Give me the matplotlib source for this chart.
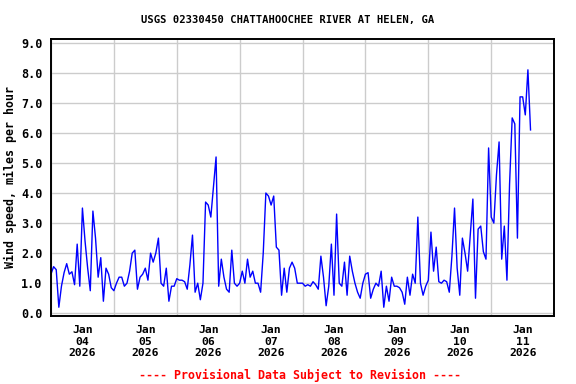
import matplotlib
matplotlib.use("Agg")
import matplotlib.pyplot as plt
import matplotlib.dates as mdates
import pandas as pd

# hourly wind speed (mph), one list per day
jan04 = [1.3, 1.55, 1.45, 0.2, 0.9, 1.35, 1.65, 1.3, 1.38, 0.95, 2.3, 0.9,
         3.5, 2.4, 1.5, 0.75, 3.4, 2.5, 1.2, 1.85, 0.4, 1.5, 1.3, 0.85]
jan05 = [0.75, 1.0, 1.2, 1.2, 0.9, 1.0, 1.4, 2.0, 2.1, 0.8, 1.2, 1.3,
         1.5, 1.1, 2.0, 1.7, 2.0, 2.5, 1.0, 0.9, 1.5, 0.4, 0.9, 0.9]
jan06 = [1.15, 1.1, 1.1, 1.05, 0.8, 1.6, 2.6, 0.7, 1.0, 0.45, 1.0, 3.7,
         3.6, 3.2, 4.2, 5.2, 0.9, 1.8, 1.2, 0.8, 0.7, 2.1, 1.0, 0.9]
jan07 = [1.0, 1.4, 1.0, 1.8, 1.2, 1.4, 1.0, 1.0, 0.7, 2.0, 4.0, 3.9,
         3.6, 3.9, 2.2, 2.1, 0.6, 1.5, 0.7, 1.5, 1.7, 1.5, 1.0, 1.0]
jan08 = [1.0, 0.9, 0.95, 0.9, 1.05, 0.95, 0.8, 1.9, 1.2, 0.25, 0.9, 2.3,
         0.6, 3.3, 1.0, 0.9, 1.7, 0.6, 1.9, 1.4, 1.0, 0.7, 0.5, 1.0]
jan09 = [1.3, 1.35, 0.5, 0.8, 1.0, 0.9, 1.4, 0.2, 0.9, 0.4, 1.2, 0.9,
         0.9, 0.85, 0.7, 0.3, 1.2, 0.6, 1.3, 1.0, 3.2, 1.0, 0.6, 0.9]
jan10 = [1.1, 2.7, 1.4, 2.2, 1.05, 1.0, 1.1, 1.05, 0.7, 1.9, 3.5, 1.5,
         0.6, 2.5, 2.0, 1.4, 2.6, 3.8, 0.5, 2.8, 2.9, 2.05, 1.8, 5.5]
jan11 = [3.2, 3.0, 4.6, 5.7, 1.8, 2.9, 1.1, 4.3, 6.5, 6.3, 2.5, 7.2,
         7.2, 6.6, 8.1, 6.1]

wind = jan04 + jan05 + jan06 + jan07 + jan08 + jan09 + jan10 + jan11
times = pd.date_range("2026-01-04 00:00", periods=len(wind), freq="h")

day_ticks = pd.date_range("2026-01-04 12:00", periods=8, freq="D")
tick_labels = [d.strftime("%b\n%d\n%Y") for d in day_ticks]
y_ticks = [i * 1.0 for i in range(10)]

fnt = "DejaVu Sans Mono"

fig = plt.figure(figsize=(5.76, 3.84), dpi=100)
ax = fig.add_axes([0.0885, 0.178, 0.8735, 0.72])

ax.plot(times, wind, color="#0000ff", linewidth=1.0)

ax.set_xlim(pd.Timestamp("2026-01-04 00:00"), pd.Timestamp("2026-01-12 00:00"))
ax.set_ylim(-0.08, 9.12)

# grid at midnight, labels at noon
ax.xaxis.set_major_locator(mdates.DayLocator())
ax.xaxis.set_major_formatter(plt.NullFormatter())
ax.set_xticks(day_ticks, minor=True)
ax.set_xticklabels(tick_labels, minor=True, fontfamily=fnt,
                   fontweight="bold", fontsize=8.2, linespacing=1.15)
ax.tick_params(axis="x", which="both", length=0, pad=7)

ax.set_yticks(y_ticks)
ax.set_yticklabels([f"{v:.1f}" for v in y_ticks], fontfamily=fnt,
                   fontweight="bold", fontsize=8.5)
ax.tick_params(axis="y", length=0, pad=6)

ax.grid(True, which="major", color="#cccccc", linewidth=1.0)
ax.set_axisbelow(True)
for sp in ax.spines.values():
    sp.set_linewidth(1.4)
    sp.set_color("black")

ax.set_ylabel("Wind speed, miles per hour", fontfamily=fnt,
              fontweight="bold", fontsize=8.4, labelpad=3)

fig.text(0.5, 0.948, "USGS 02330450 CHATTAHOOCHEE RIVER AT HELEN, GA",
         ha="center", va="center", fontfamily=fnt, fontweight="bold",
         fontsize=7.6)
fig.text(0.52, 0.023, "---- Provisional Data Subject to Revision ----",
         ha="center", va="center", fontfamily=fnt, fontweight="bold",
         fontsize=8.4, color="#ff0000")

fig.savefig("out.png", dpi=100)
